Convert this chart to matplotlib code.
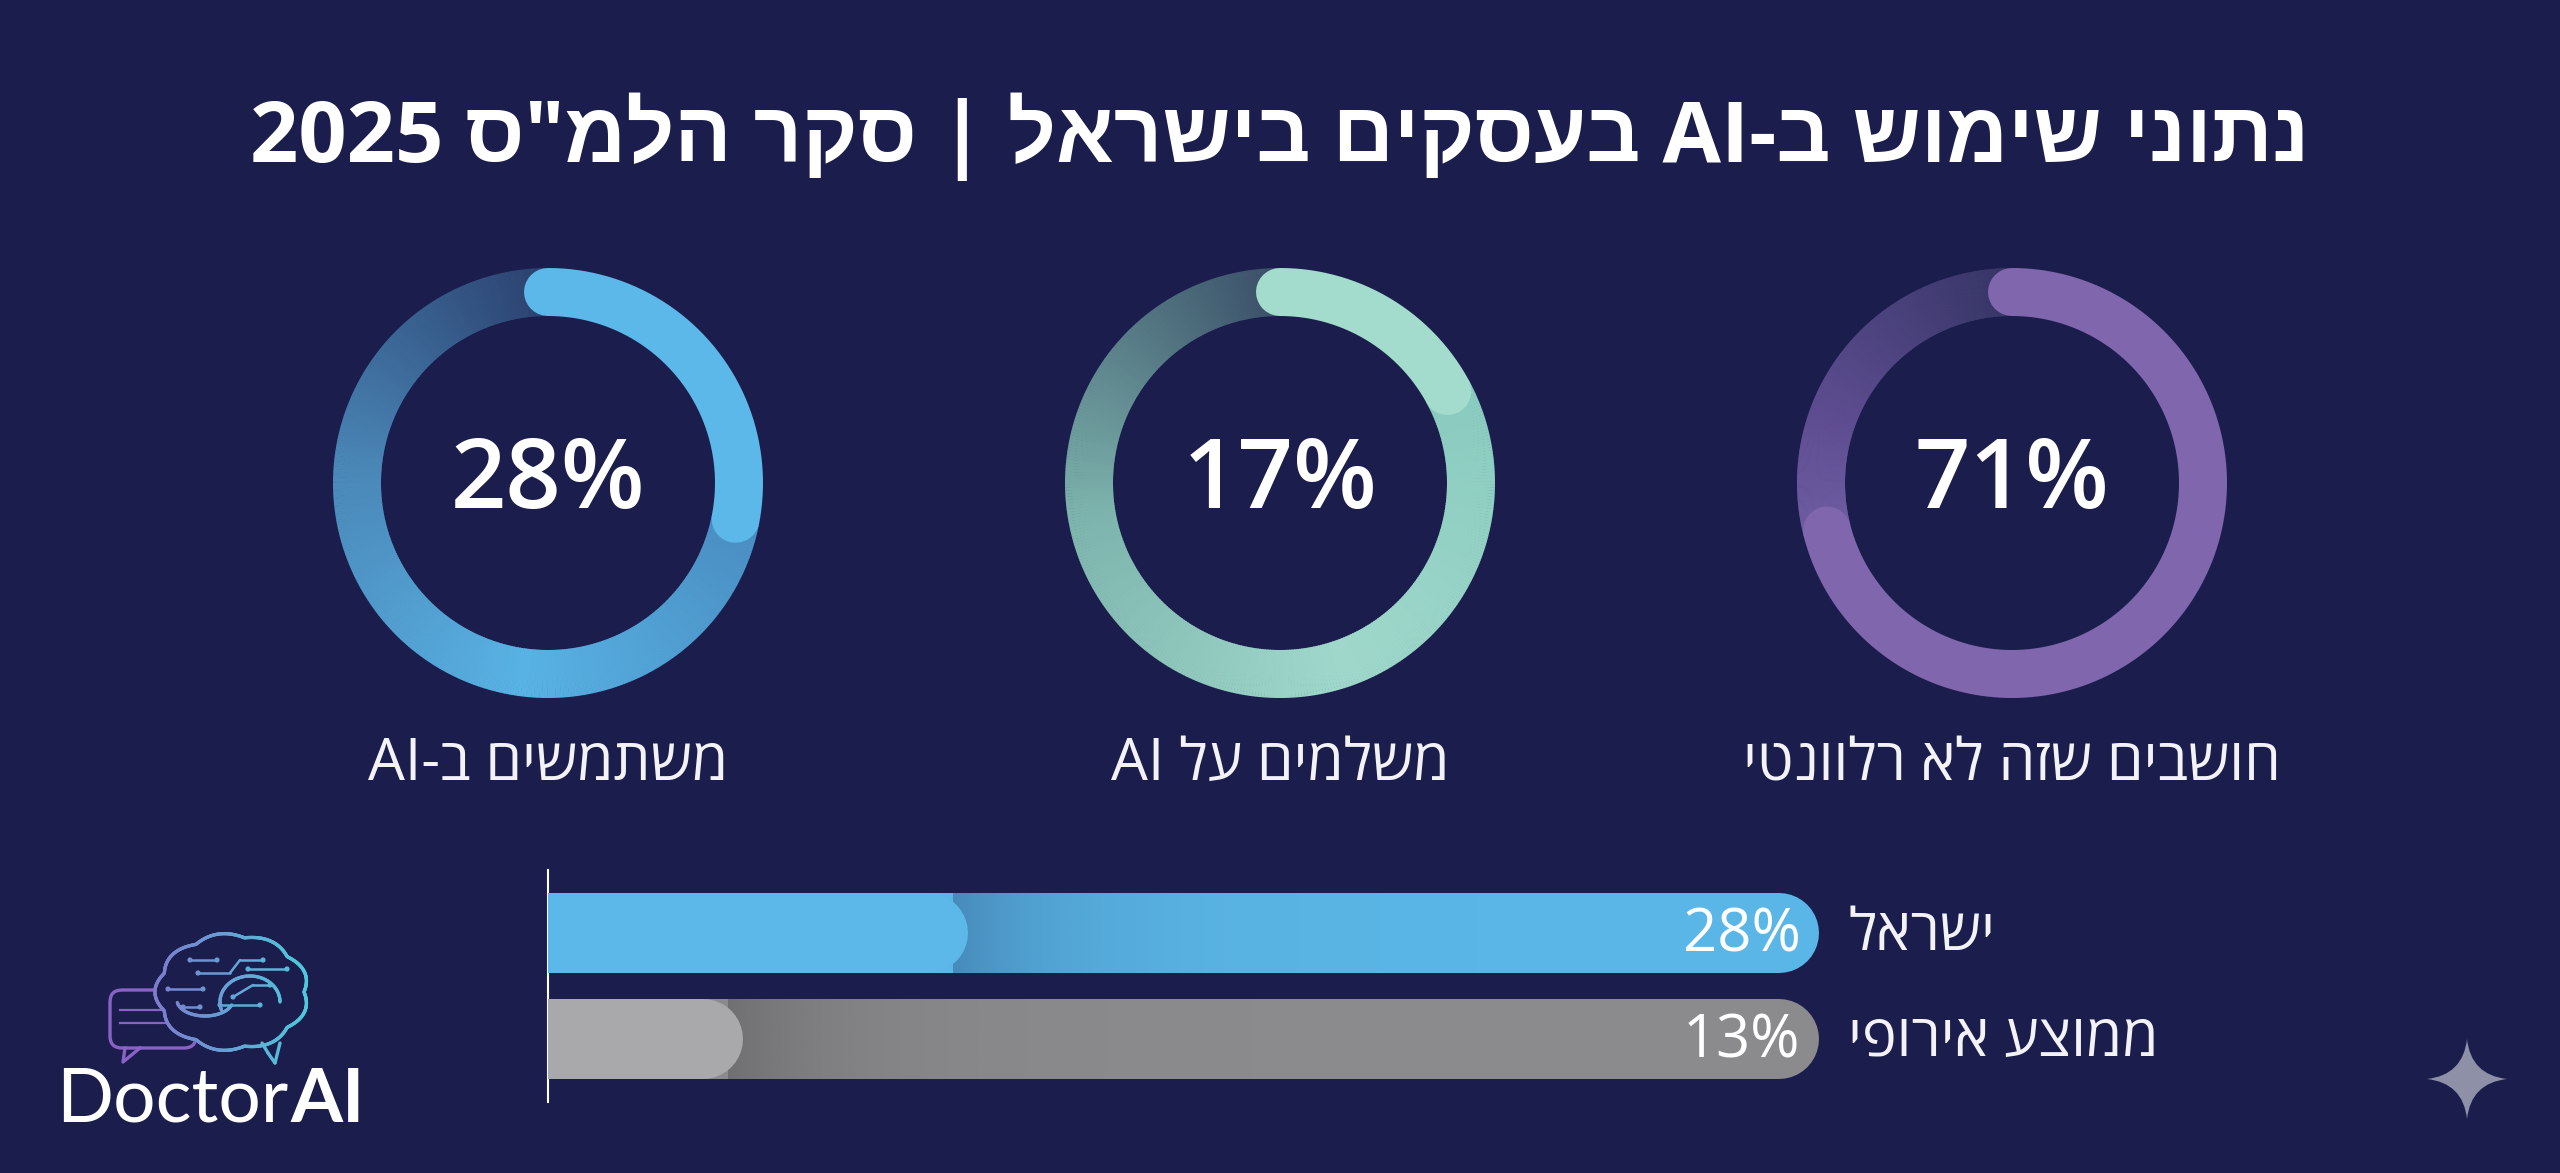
import re
import numpy as np
import matplotlib
matplotlib.use('Agg')
import matplotlib.pyplot as plt
from matplotlib.collections import LineCollection
from matplotlib.colors import LinearSegmentedColormap, to_rgb
from matplotlib.path import Path
from matplotlib.patches import PathPatch, FancyBboxPatch

# data
title = 'נתוני שימוש ב-AI בעסקים בישראל | סקר הלמ"ס 2025'
ring_values = [28, 17, 71]
ring_labels = ['משתמשים ב-AI', 'משלמים על AI', 'חושבים שזה לא רלוונטי']
bar_labels = ['ישראל', 'ממוצע אירופי']
bar_values = [28, 13]

# style
W, H = 2560, 1173
BG = '#1b1d4c'
HEB = ['Open Sans', 'Liberation Sans', 'DejaVu Sans']
ring_arc_colors = ['#5bb8e8', '#a3dccd', '#7f66ad']
ring_bg_stops = [
    ['#4a8ec2', '#58b2e4', '#4a88b8', '#2b416f'],
    ['#8acbbf', '#9fd8cb', '#7db4ad', '#3a4f68'],
    ['#6f5ca2', '#5d4d90', '#4a427c', '#363566'],
]
bar_fill = ['#5bb8e8', '#a9a9ab']
bar_track = ['#5ab6e6', '#8b8b8d']
bar_shadow = ['#3a6e9e', '#5e5e62']


def vis(s):
    # visual (left-to-right) order for Hebrew text
    out = s[::-1]
    return re.sub(r'[A-Za-z0-9%.]+', lambda m: m.group(0)[::-1], out)


fig = plt.figure(figsize=(W / 100, H / 100), dpi=100, facecolor=BG)
base = fig.add_axes([0, 0, 1, 1])
base.set_xlim(0, W)
base.set_ylim(H, 0)
base.axis('off')
base.set_facecolor(BG)

# title
base.text(1280, 138, vis(title), ha='center', va='center', color='white',
          fontsize=61, fontweight='bold', family=HEB)

# rings
ring_cx = [548, 1280, 2012]
ring_cy = 483
R, LW_PX = 191, 48
for i, v in enumerate(ring_values):
    cx = ring_cx[i]
    ax = fig.add_axes([(cx - 250) / W, 1 - (ring_cy + 250) / H, 500 / W, 500 / H],
                      projection='polar')
    ax.set_theta_zero_location('N')
    ax.set_theta_direction(-1)
    ax.set_rlim(0, 250)
    ax.axis('off')
    ax.patch.set_alpha(0)
    end = 2 * np.pi * v / 100
    # background ring with conic gradient
    cmap = LinearSegmentedColormap.from_list('r%d' % i, ring_bg_stops[i])
    n = 360
    th = np.linspace(end, 2 * np.pi, n + 1)
    segs = [[(th[k], R), (th[k + 1] + 0.004, R)] for k in range(n)]
    lc = LineCollection(segs, colors=cmap(np.linspace(0, 1, n)),
                        linewidths=LW_PX * 0.72, capstyle='butt')
    ax.add_collection(lc)
    # value arc
    t = np.linspace(0, end, 300)
    ax.plot(t, np.full_like(t, R), color=ring_arc_colors[i], lw=LW_PX * 0.72,
            solid_capstyle='round')
    ax.set_rlim(0, 250)
    base.text(cx, ring_cy, '%d%%' % v, ha='center', va='center', color='white',
              fontsize=70, fontweight='semibold', family=['Open Sans', 'DejaVu Sans'])
    base.text(cx, 765, vis(ring_labels[i]), ha='center', va='center',
              color='#f2f2f7', fontsize=42, fontweight='normal', family=HEB)

# bars
bx = fig.add_axes([548 / W, 1 - 1102 / H, 1500 / W, 232 / H])
bx.patch.set_alpha(0)
TRACK_END = 84.7
cap = 40 / 15
bar_lw = 80 * 0.72
for i, v in enumerate(bar_values):
    bx.plot([-5, TRACK_END - cap], [i, i], color=bar_track[i], lw=bar_lw,
            solid_capstyle='round', zorder=1)
    grad = np.zeros((1, 200, 4))
    grad[..., :3] = to_rgb(bar_shadow[i])
    grad[0, :, 3] = 0.6 * np.exp(-np.linspace(0, 4.5, 200))
    bx.imshow(grad, extent=[v - 1, v + 34, i + 0.375, i - 0.375], aspect='auto',
              zorder=2, interpolation='bilinear')
    bx.plot([-5, v - cap], [i, i], color=bar_fill[i], lw=bar_lw,
            solid_capstyle='round', zorder=3)
    bx.text(TRACK_END - 1.2, i + 0.02, '%d%%' % v, ha='right', va='center',
            color='white', fontsize=43, fontweight='medium',
            family=['Open Sans', 'DejaVu Sans'], zorder=4)
    bx.text(86.7, i + 0.02, vis(bar_labels[i]), ha='left', va='center',
            color='#f2f2f7', fontsize=42, fontweight='normal', family=HEB)
bx.set_xlim(0, 100)
bx.set_ylim(1.594, -0.594)
for s in ['top', 'right', 'bottom']:
    bx.spines[s].set_visible(False)
bx.spines['left'].set_color('white')
bx.spines['left'].set_linewidth(1.5)
bx.set_xticks([])
bx.set_yticks([])

# logo: speech bubble + brain outline
def grad_col(x):
    a = np.clip((np.asarray(x) - 107) / 195, 0, 1)[..., None]
    c0, c1 = np.array(to_rgb('#8c62c8')), np.array(to_rgb('#4ec8dc'))
    return c0 * (1 - a) + c1 * a

def gline(xs, ys, lw=2.4, z=5):
    xs, ys = np.asarray(xs, float), np.asarray(ys, float)
    pts = np.column_stack([xs, ys])
    segs = np.stack([pts[:-1], pts[1:]], axis=1)
    base.add_collection(LineCollection(segs, colors=grad_col((xs[:-1] + xs[1:]) / 2),
                                       linewidths=lw, capstyle='round', zorder=z))

# bubble
bub = FancyBboxPatch((110, 990), 86, 58, boxstyle='round,pad=0,rounding_size=12',
                     fill=False, ec='#8a62c6', lw=2.4, zorder=3)
base.add_patch(bub)
base.plot([125, 123, 140], [1048, 1062, 1048], color='#8a62c6', lw=2.4, zorder=3)
base.plot([120, 163], [1010, 1010], color='#8a62c6', lw=1.6, zorder=3)
base.plot([120, 178], [1023, 1023], color='#8a62c6', lw=1.6, zorder=3)

# brain outline (bumpy ellipse)
th = np.linspace(0, 2 * np.pi, 600)
rb = 1 + 0.07 * np.abs(np.sin(4.5 * th))
bxs = 232 + 72 * rb * np.cos(th)
bys = 992 + 55 * rb * np.sin(th)
base.fill(bxs, bys, color=BG, zorder=4)
gline(bxs, bys)
# stem
gline([262, 268, 275, 280], [1043, 1053, 1063, 1043])
# inner folds
tt = np.linspace(0.9 * np.pi, 2.0 * np.pi, 80)
gline(250 + 30 * np.cos(tt), 1002 + 26 * np.sin(tt))
tt = np.linspace(0.1 * np.pi, 0.95 * np.pi, 60)
gline(205 + 28 * np.cos(tt), 1000 + 16 * np.sin(tt))
# circuits
circ = [([190, 217], [960, 960]), ([198, 230, 240, 263], [973, 973, 960, 960]),
        ([248, 287], [969, 969]), ([168, 203], [989, 989]), ([183, 200], [1007, 1007]),
        ([220, 260], [1005, 1005]), ([233, 253, 270], [997, 985, 985])]
for xs, ys in circ:
    gline(xs, ys, lw=1.8)
    base.scatter([xs[0], xs[-1]], [ys[0], ys[-1]], s=14, c=grad_col([xs[0], xs[-1]]),
                 zorder=6, linewidths=0)

t1 = base.text(56, 1122, 'Doctor', ha='left', va='baseline', color='white',
               fontsize=54, fontweight='normal', family=['Lato', 'DejaVu Sans'])
fig.canvas.draw()
bb = t1.get_window_extent()
base.text(56 + bb.width + 2, 1122, 'AI', ha='left', va='baseline', color='white',
          fontsize=54, fontweight='bold', family=['Lato', 'DejaVu Sans'])

# sparkle
sx, sy, s = 2467, 1079, 40
k = 0.1
verts = [(sx, sy - s), (sx + k * s, sy - k * s), (sx + s, sy),
         (sx + k * s, sy + k * s), (sx, sy + s), (sx - k * s, sy + k * s),
         (sx - s, sy), (sx - k * s, sy - k * s), (sx, sy - s)]
codes = [Path.MOVETO] + [Path.CURVE3, Path.CURVE3] * 4
base.add_patch(PathPatch(Path(verts, codes), fc='#8e90a8', ec='none', zorder=3))

fig.savefig('out.png', dpi=100, facecolor=BG)
